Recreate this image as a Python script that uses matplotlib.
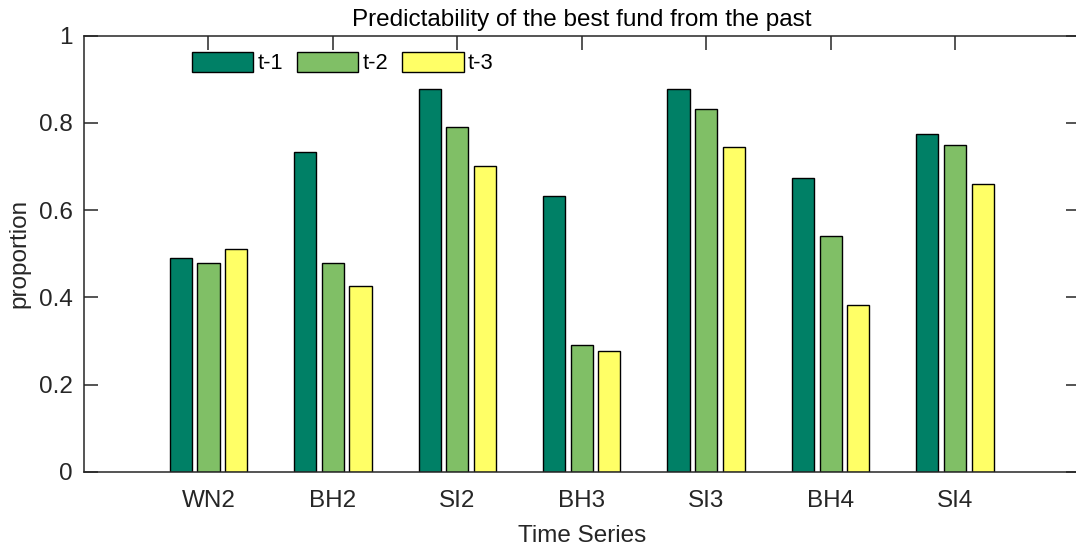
import numpy as np
import matplotlib
matplotlib.use("Agg")
import matplotlib.pyplot as plt

categories = ['WN2', 'BH2', 'SI2', 'BH3', 'SI3', 'BH4', 'SI4']
series_names = ['t-1', 't-2', 't-3']
t1 = [0.490, 0.734, 0.877, 0.633, 0.877, 0.673, 0.775]
t2 = [0.480, 0.480, 0.791, 0.292, 0.833, 0.542, 0.749]
t3 = [0.510, 0.426, 0.702, 0.277, 0.744, 0.383, 0.659]

colors = ['#008066', '#80bf66', '#ffff66']
gray = '#262626'

plt.rcParams['font.family'] = ['Liberation Sans', 'DejaVu Sans']
fs = 17.5

fig = plt.figure(figsize=(10.76, 5.5), dpi=100)
W, H = 1076, 550
left, right, top, bottom = 84, 1079.5, 35.7, 472
ax = fig.add_axes([left / W, 1 - bottom / H, (right - left) / W, (bottom - top) / H])

x = np.arange(1, len(categories) + 1)
slot = 0.667 / 3
width = slot * 0.8
for k, vals in enumerate([t1, t2, t3]):
    ax.bar(x + (k - 1) * slot, vals, width, color=colors[k], edgecolor='black',
           linewidth=1.0, label=series_names[k], zorder=2)

ax.set_xlim(0, 8)
ax.set_ylim(0, 1)
ax.set_xticks(x)
ax.set_xticklabels(categories)
ax.set_yticks([0, 0.2, 0.4, 0.6, 0.8, 1])
ax.set_yticklabels(['0', '0.2', '0.4', '0.6', '0.8', '1'])
ax.set_axisbelow(True)
ax.tick_params(direction='in', length=10, width=1.1, colors=gray, labelcolor=gray,
               top=True, right=True, labelsize=fs)
ax.tick_params(axis='x', pad=13)
ax.tick_params(axis='y', pad=8)
for s in ax.spines.values():
    s.set_color(gray)
    s.set_linewidth(1.1)

ax.set_title('Predictability of the best fund from the past', fontsize=fs, color='black', pad=7)
ax.set_xlabel('Time Series', color=gray, fontsize=fs, labelpad=9)
ax.set_ylabel('proportion', color=gray, fontsize=fs, labelpad=6)

ax.legend(loc='upper left', bbox_to_anchor=(0.108, 0.963), ncol=3, frameon=False,
          handlelength=2.83, handleheight=1.02, handletextpad=0.2, columnspacing=0.6,
          borderpad=0, borderaxespad=0, fontsize=fs * 0.9)

fig.savefig('out.png', dpi=100)
